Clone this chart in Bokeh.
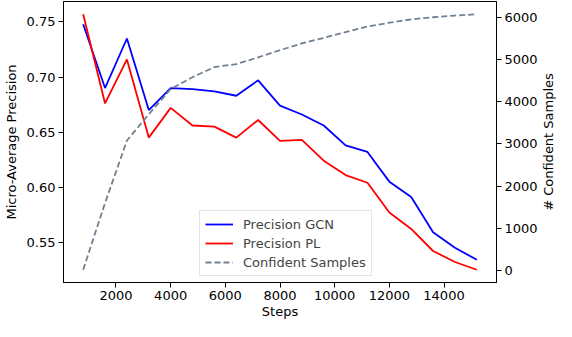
from bokeh.plotting import figure
from bokeh.models import (Range1d, LinearAxis, FixedTicker, PrintfTickFormatter,
                          Legend, LegendItem, Label)
from bokeh.layouts import row
from bokeh.embed import file_html
from bokeh.resources import INLINE
import math

steps = [800, 1600, 2400, 3200, 4000, 4800, 5600, 6400, 7200, 8000, 8800,
         9600, 10400, 11200, 12000, 12800, 13600, 14400, 15200]
precision_gcn = [0.748, 0.690, 0.735, 0.670, 0.690, 0.689, 0.687, 0.683, 0.697,
                 0.674, 0.666, 0.656, 0.638, 0.632, 0.605, 0.591, 0.559, 0.545, 0.534]
precision_pl = [0.757, 0.676, 0.716, 0.645, 0.672, 0.656, 0.655, 0.645, 0.661,
                0.642, 0.643, 0.624, 0.611, 0.604, 0.577, 0.562, 0.542, 0.532, 0.525]
confident_samples = [20, 1600, 3080, 3700, 4300, 4580, 4820, 4890, 5050, 5220,
                     5380, 5510, 5650, 5780, 5870, 5950, 6000, 6040, 6070]

x_ticks = [2000, 4000, 6000, 8000, 10000, 12000, 14000]
left_ticks = [0.55, 0.60, 0.65, 0.70, 0.75]
right_ticks = [0, 1000, 2000, 3000, 4000, 5000, 6000]

FONT = "DejaVu Sans"
FS = "13px"

H = 321
W_MAIN, W_TITLE = 540, 16
BL, BR, BT, BB = 58, 44, 1, 30


def padded(lo, hi, frac=0.05):
    d = (hi - lo) * frac
    return lo - d, hi + d


xlo, xhi = padded(min(steps), max(steps))
ylo, yhi = padded(min(precision_gcn + precision_pl), max(precision_gcn + precision_pl))
rlo, rhi = padded(min(confident_samples), max(confident_samples))

p = figure(width=W_MAIN, height=H, output_backend="svg", toolbar_location=None,
           x_range=Range1d(xlo, xhi), y_range=Range1d(ylo, yhi),
           min_border_left=BL, min_border_right=BR, min_border_top=BT,
           min_border_bottom=BB)
p.extra_y_ranges = {"right": Range1d(rlo, rhi)}

p.xgrid.visible = False
p.ygrid.visible = False
p.outline_line_color = "black"
p.outline_line_width = 1
p.outline_line_alpha = 1
p.background_fill_color = "white"
p.border_fill_color = "white"

l1 = p.line(steps, precision_gcn, line_color="#0000ff", line_width=1.8)
l2 = p.line(steps, precision_pl, line_color="#ff0000", line_width=1.8)
l3 = p.line(steps, confident_samples, line_color="#708090", line_width=1.8,
            line_dash="6 3", y_range_name="right")

right_axis = LinearAxis(y_range_name="right")
p.add_layout(right_axis, "right")


def style_axis(ax):
    ax.axis_line_color = "black"
    ax.major_tick_line_color = "black"
    ax.major_tick_out = 5
    ax.major_tick_in = 0
    ax.minor_tick_line_color = None
    ax.major_label_text_font = FONT
    ax.major_label_text_font_size = FS
    ax.major_label_text_color = "black"
    ax.axis_label_text_font = FONT
    ax.axis_label_text_font_size = FS
    ax.axis_label_text_font_style = "normal"
    ax.axis_label_text_color = "black"
    ax.major_label_standoff = 3
    ax.axis_label_standoff = 0


xa = p.xaxis[0]
style_axis(xa)
xa.ticker = FixedTicker(ticks=x_ticks)
xa.axis_label = "Steps"
xa.major_label_standoff = 3
xa.axis_label_standoff = 1

ya = p.yaxis[0]
style_axis(ya)
ya.ticker = FixedTicker(ticks=left_ticks)
ya.formatter = PrintfTickFormatter(format="%.2f")
ya.axis_label = "Micro-Average Precision"
ya.axis_label_standoff = 5

style_axis(right_axis)
right_axis.ticker = FixedTicker(ticks=right_ticks)

legend = Legend(items=[
    LegendItem(label="Precision GCN", renderers=[l1]),
    LegendItem(label="Precision PL", renderers=[l2]),
    LegendItem(label="Confident Samples", renderers=[l3]),
], location=(136, 6))
legend.label_text_font = FONT
legend.label_text_font_size = FS
legend.glyph_width = 28
legend.glyph_height = 16
legend.label_height = 16
legend.spacing = 3
legend.padding = 5
legend.label_standoff = 10
legend.border_line_color = "#cccccc"
legend.border_line_width = 1
legend.background_fill_color = "white"
legend.background_fill_alpha = 0.8
p.add_layout(legend, "center")

# narrow side figure that carries the right-hand axis title
t = figure(width=W_TITLE, height=H, output_backend="svg", toolbar_location=None,
           x_range=Range1d(0, 1), y_range=Range1d(0, 1),
           x_axis_type=None, y_axis_type=None,
           min_border_left=0, min_border_right=0, min_border_top=BT,
           min_border_bottom=32)
t.outline_line_color = None
t.background_fill_color = "white"
t.border_fill_color = "white"
t.add_layout(Label(x=0.5, y=0.5, text="# Confident Samples", angle=math.pi / 2,
                   text_align="center", text_baseline="middle",
                   text_font=FONT, text_font_size=FS, text_color="black"))

layout = row(p, t)
open("out.html", "w").write(file_html(layout, INLINE))
